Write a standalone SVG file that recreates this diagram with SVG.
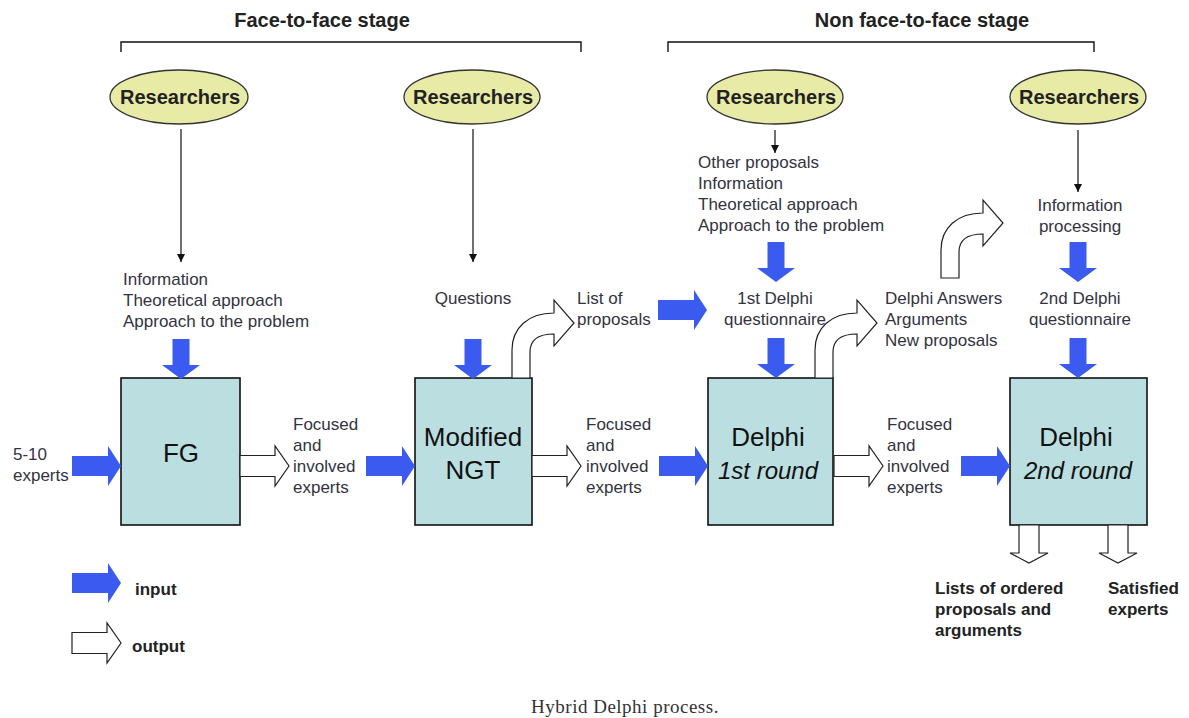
<svg xmlns="http://www.w3.org/2000/svg" width="1189" height="718" viewBox="0 0 1189 718">
<style>
  .t { font-family: "Liberation Sans", Arial, sans-serif; font-size: 17px; fill: #333340; }
  .b { font-family: "Liberation Sans", Arial, sans-serif; font-weight: bold; fill: #222; }
  .box { fill: #bbdfe1; stroke: #111; stroke-width: 1.6; }
  .ell { fill: #e8eba6; stroke: #333; stroke-width: 1.3; }
  .bl { fill: #3b5bf0; stroke: none; }
  .wh { fill: #fff; stroke: #222; stroke-width: 1.2; stroke-linejoin: miter; }
  .thin { stroke: #111; stroke-width: 1.2; fill: none; marker-end: url(#ah); }
  .big { font-family: "Liberation Sans", Arial, sans-serif; font-size: 26px; fill: #111; text-anchor: middle; }
  .it { font-size: 24px; font-style: italic; }
  .brk { fill: none; stroke: #111; stroke-width: 1.4; }
</style>
<defs>
  <marker id="ah" viewBox="0 0 10 10" refX="10" refY="5" markerWidth="8" markerHeight="8" markerUnits="userSpaceOnUse" orient="auto">
    <path d="M0,0 L10,5 L0,10 Z" fill="#111"/>
  </marker>
  <path id="bh" d="M0,-10 L36,-10 L36,-20 L49,0 L36,20 L36,10 L0,10 Z"/>
  <path id="bv" d="M-8.5,0 L8.5,0 L8.5,26 L19,26 L0,40 L-19,26 L-8.5,26 Z"/>
  <path id="wh" d="M0,-10.5 L35,-10.5 L35,-20 L49,0 L35,20 L35,10.5 L0,10.5 Z"/>
  <path id="wv" d="M-10,0 L10,0 L10,28 L19,28 L0,38 L-19,28 L-10,28 Z"/>
  <path id="bent" d="M512,378 L512,350 C512,328 528,313 554,313 L554,300 L574,323 L554,346 L554,334 C541,334 530,338 530,352 L530,378 Z"/>
</defs>
<rect width="1189" height="718" fill="#fff"/>

<g id="stages">
  <text class="b" x="322" y="27" font-size="20" text-anchor="middle">Face-to-face stage</text>
  <path class="brk" d="M121,52 L121,42 L581,42 L581,52"/>
  <text class="b" x="922" y="27" font-size="20" text-anchor="middle">Non face-to-face stage</text>
  <path class="brk" d="M668,52 L668,42 L1094,42 L1094,52"/>
</g>

<g id="researchers1"><ellipse class="ell" cx="179" cy="97" rx="69" ry="27"/><text class="b" x="180" y="104" font-size="20" text-anchor="middle">Researchers</text></g>
<g id="researchers2"><ellipse class="ell" cx="472" cy="97" rx="68" ry="27"/><text class="b" x="473" y="104" font-size="20" text-anchor="middle">Researchers</text></g>
<g id="researchers3"><ellipse class="ell" cx="775" cy="97" rx="68" ry="27"/><text class="b" x="776" y="104" font-size="20" text-anchor="middle">Researchers</text></g>
<g id="researchers4"><ellipse class="ell" cx="1078" cy="97" rx="68" ry="27"/><text class="b" x="1079" y="104" font-size="20" text-anchor="middle">Researchers</text></g>

<g id="fg"><rect class="box" x="121" y="378" width="119" height="147"/><text class="big" x="181" y="462">FG</text></g>
<g id="ngt"><rect class="box" x="415" y="378" width="117" height="147"/><text class="big" x="473" y="446">Modified</text><text class="big" x="473" y="479">NGT</text></g>
<g id="delphi1"><rect class="box" x="708" y="378" width="125" height="147"/><text class="big" x="768" y="446">Delphi</text><text class="big it" x="768" y="479">1st round</text></g>
<g id="delphi2"><rect class="box" x="1010" y="378" width="137" height="147"/><text class="big" x="1076" y="446">Delphi</text><text class="big it" x="1078" y="479">2nd round</text></g>

<g id="connectors">
  <line class="thin" x1="181" y1="129" x2="181" y2="262"/>
  <line class="thin" x1="473" y1="129" x2="473" y2="262"/>
  <line class="thin" x1="775" y1="130" x2="775" y2="153"/>
  <line class="thin" x1="1078" y1="130" x2="1078" y2="192"/>

  <use href="#bv" class="bl" x="181" y="339"/>
  <use href="#bv" class="bl" x="473" y="339"/>
  <use href="#bv" class="bl" x="776" y="242"/>
  <use href="#bv" class="bl" x="776" y="338"/>
  <use href="#bv" class="bl" x="1078" y="242"/>
  <use href="#bv" class="bl" x="1078" y="338"/>

  <use href="#bh" class="bl" x="72" y="466"/>
  <use href="#bh" class="bl" x="366" y="466"/>
  <use href="#bh" class="bl" x="659" y="466"/>
  <use href="#bh" class="bl" x="961" y="466"/>
  <use href="#bh" class="bl" x="658" y="310"/>

  <use href="#wh" class="wh" x="240" y="466"/>
  <use href="#wh" class="wh" x="532" y="466"/>
  <use href="#wh" class="wh" x="834" y="466"/>

  <use href="#bent" class="wh"/>
  <use href="#bent" class="wh" x="303" y="0"/>
  <use href="#bent" class="wh" x="429" y="-100"/>

  <use href="#wv" class="wh" x="1029" y="525"/>
  <use href="#wv" class="wh" x="1118" y="525"/>
</g>

<g id="labels">
  <text class="t" x="123" y="285">Information</text>
  <text class="t" x="123" y="306">Theoretical approach</text>
  <text class="t" x="123" y="327">Approach to the problem</text>

  <text class="t" x="473" y="304" text-anchor="middle">Questions</text>
  <text class="t" x="577" y="304">List of</text>
  <text class="t" x="577" y="325">proposals</text>

  <text class="t" x="698" y="168">Other proposals</text>
  <text class="t" x="698" y="189">Information</text>
  <text class="t" x="698" y="210">Theoretical approach</text>
  <text class="t" x="698" y="231">Approach to the problem</text>

  <text class="t" x="775" y="304" text-anchor="middle">1st Delphi</text>
  <text class="t" x="775" y="325" text-anchor="middle">questionnaire</text>

  <text class="t" x="885" y="304">Delphi Answers</text>
  <text class="t" x="885" y="325">Arguments</text>
  <text class="t" x="885" y="346">New proposals</text>

  <text class="t" x="1080" y="211" text-anchor="middle">Information</text>
  <text class="t" x="1080" y="232" text-anchor="middle">processing</text>
  <text class="t" x="1080" y="304" text-anchor="middle">2nd Delphi</text>
  <text class="t" x="1080" y="325" text-anchor="middle">questionnaire</text>

  <text class="t" x="13" y="460">5-10</text>
  <text class="t" x="13" y="481">experts</text>

  <text class="t" x="293" y="430">Focused</text>
  <text class="t" x="293" y="451">and</text>
  <text class="t" x="293" y="472">involved</text>
  <text class="t" x="293" y="493">experts</text>

  <text class="t" x="586" y="430">Focused</text>
  <text class="t" x="586" y="451">and</text>
  <text class="t" x="586" y="472">involved</text>
  <text class="t" x="586" y="493">experts</text>

  <text class="t" x="887" y="430">Focused</text>
  <text class="t" x="887" y="451">and</text>
  <text class="t" x="887" y="472">involved</text>
  <text class="t" x="887" y="493">experts</text>

  <text class="b" x="935" y="594" font-size="17">Lists of ordered</text>
  <text class="b" x="935" y="615" font-size="17">proposals and</text>
  <text class="b" x="935" y="636" font-size="17">arguments</text>
  <text class="b" x="1108" y="594" font-size="17">Satisfied</text>
  <text class="b" x="1108" y="615" font-size="17">experts</text>
</g>

<g id="legend">
  <use href="#bh" class="bl" x="72" y="583"/>
  <text class="b" x="135" y="595" font-size="17">input</text>
  <use href="#wh" class="wh" x="72" y="643"/>
  <text class="b" x="132" y="652" font-size="17">output</text>
</g>

<text x="625" y="713" font-family="Liberation Serif, serif" font-size="19" letter-spacing="0.5" fill="#333" text-anchor="middle">Hybrid Delphi process.</text>
</svg>
